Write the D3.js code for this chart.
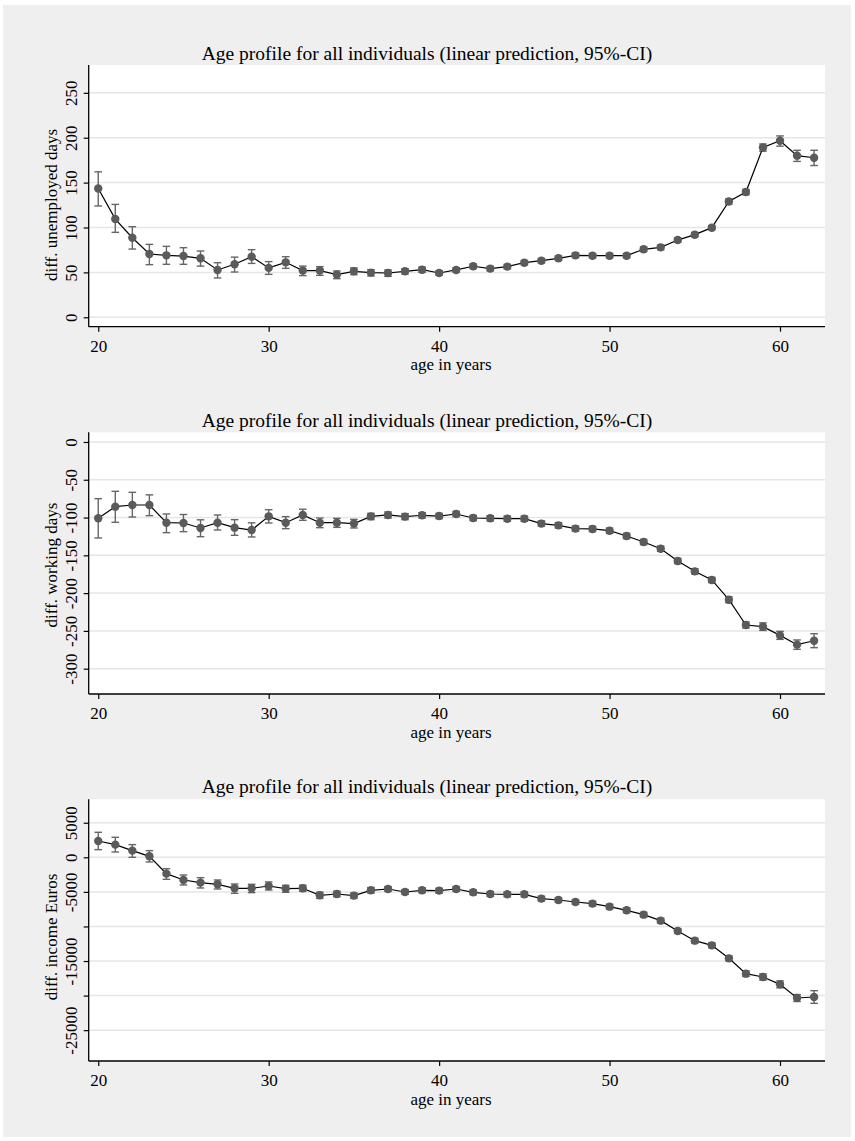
<!DOCTYPE html>
<html>
<head>
<meta charset="utf-8">
<script src="https://cdn.jsdelivr.net/npm/d3@7"></script>
<style>
  html, body { margin: 0; padding: 0; background: #ffffff; }
  svg { display: block; }
  text { font-family: "Liberation Serif", "DejaVu Serif", serif; fill: #000; }
</style>
</head>
<body>
<svg id="chart" width="855" height="1141"></svg>
<script>
// ---------- data ----------
const ages = [20,21,22,23,24,25,26,27,28,29,30,31,32,33,34,35,36,37,38,39,40,41,42,43,44,45,46,47,48,49,50,51,52,53,54,55,56,57,58,59,60,61,62];

const unempDays = [143.5,109.4,88.6,70.5,69,68.2,65.7,52.7,59,67.5,55,61.2,52,52,47.5,51.2,49.7,49.3,51.2,53,49.3,52.7,56.8,54.2,56.4,60.8,63,65.7,69,68.6,68.6,68.6,75.7,77.9,86,92,99.8,129,139.5,189.2,196.6,180,177.7];
const unempLo   = [124,94.6,76,58.6,59,59,57,43.8,50.4,60,47.8,54.5,46.4,46.7,43,47.5,46,45.6,48.2,50,46.8,50.2,54.3,51.7,53.9,58.3,60.5,63.2,66.5,66.1,66.1,66.1,73.2,75.4,83.5,89.5,97.3,126,136.5,185,190.6,173.6,169];
const unempHi   = [162,125.7,100.9,81.2,79,77.5,73.8,60.8,67,75.3,62,67.5,57,56.4,51.6,55,53,52.7,54.2,56,51.8,55.2,59.3,56.7,58.9,63.3,65.5,68.2,71.5,71.1,71.1,71.1,78.2,80.4,88.5,94.5,102.3,132,142.5,193,202,186,186];

const workDays = [-101,-85.6,-83.4,-83.4,-106.8,-107.2,-113.8,-106.8,-113.4,-116.5,-98.4,-106.8,-96.6,-106.8,-106.8,-108,-98.4,-96.6,-98.8,-97,-98,-95.3,-100.6,-101,-101.5,-101.5,-108,-110.3,-114.7,-115.1,-117.4,-124.4,-132.4,-141.2,-157.5,-171.2,-182.6,-208.7,-242.2,-244.4,-255.9,-268.2,-263];
const workLo   = [-127,-106.3,-99.3,-97.5,-120,-118.7,-125.3,-116.5,-123.5,-125.7,-107.2,-114.7,-103.7,-113.4,-113,-113.8,-102.8,-100.6,-102.8,-100.5,-101.5,-98.8,-104.1,-104.5,-105,-105,-111.5,-113.8,-118.2,-118.6,-120.9,-127.9,-135.9,-144.7,-161,-174.7,-186.1,-212.7,-246.2,-249.4,-261.2,-274.4,-272.2];
const workHi   = [-75,-65.3,-66.6,-70,-95.3,-96,-103,-96.6,-102.8,-107,-89.6,-98.8,-89,-100.6,-101,-102.4,-94.4,-92.6,-94.8,-93.5,-94.5,-91.8,-97.1,-97.5,-98,-98,-104.5,-106.8,-111.2,-111.6,-113.9,-120.9,-128.9,-137.7,-154,-167.7,-179.1,-204.7,-238.2,-239.4,-250.6,-262,-253.7];

const incomeEur = [2363,1832,964,145,-2363,-3279,-3665,-3906,-4484,-4484,-4147,-4533,-4484,-5497,-5304,-5545,-4774,-4581,-5015,-4774,-4822,-4581,-5063,-5304,-5352,-5352,-5979,-6172,-6461,-6703,-7137,-7667,-8294,-9162,-10657,-12055,-12730,-14611,-16829,-17311,-18372,-20349,-20204];
const incomeLo  = [1109,771,0,-675,-3183,-4002,-4436,-4581,-5208,-5111,-4725,-5063,-4934,-5947,-5704,-5945,-5174,-4931,-5365,-5124,-5172,-4931,-5413,-5654,-5702,-5702,-6329,-6522,-6811,-7053,-7487,-8017,-8644,-9512,-11007,-12405,-13080,-14961,-17229,-17761,-18872,-20849,-21120];
const incomeHi  = [3617,2893,1832,964,-1640,-2556,-2941,-3279,-3858,-3906,-3568,-4050,-4034,-5047,-4904,-5145,-4374,-4231,-4665,-4424,-4472,-4231,-4713,-4954,-5002,-5002,-5629,-5822,-6111,-6353,-6787,-7317,-7944,-8812,-10307,-11705,-12380,-14261,-16429,-16861,-17872,-19849,-19288];

const xTicks = [20,30,40,50,60];
const unempTicks = [0,50,100,150,200,250];
const workTicks = [0,-50,-100,-150,-200,-250,-300];
const incomeTicks = [5000,0,-5000,-10000,-15000,-20000,-25000];
const incomeTickLabels = ["5000","0","-5000","","-15000","","-25000"];

const titleText = "Age profile for all individuals (linear prediction, 95%-CI)";
const xTitle = "age in years";
const yTitles = ["diff. unemployed days", "diff. working days", "diff. income Euros"];

// ---------- layout ----------
const svg = d3.select("#chart");
svg.append("rect").attr("x", 3).attr("y", 5).attr("width", 848).attr("height", 1132).attr("fill", "#efefef");

const xDomain = [19.44, 62.64];
const panels = [
  { top: 65,    bottom: 326.7, yDomain: [-10.5, 281],   ticks: unempTicks,  labels: unempTicks.map(String),  v: unempDays, lo: unempLo,  hi: unempHi,  titleY: 53.5,  yTitleY: 205 },
  { top: 432.3, bottom: 694,   yDomain: [-333.5, 12.8], ticks: workTicks,   labels: workTicks.map(String),   v: workDays,  lo: workLo,   hi: workHi,   titleY: 420,   yTitleY: 565 },
  { top: 799.3, bottom: 1061,  yDomain: [-29460, 8390], ticks: incomeTicks, labels: incomeTickLabels,        v: incomeEur, lo: incomeLo, hi: incomeHi, titleY: 786.5, yTitleY: 937 }
];
const left = 88.7, right = 825;
const tickFont = 17, titleFont = 19.5, axisTitleFont = 17;

const markColor = "#5b5b5b";

panels.forEach((p, i) => {
  const g = svg.append("g");
  const x = d3.scaleLinear().domain(xDomain).range([left, right]);
  const y = d3.scaleLinear().domain(p.yDomain).range([p.bottom, p.top]);

  // plot region
  g.append("rect").attr("x", left).attr("y", p.top).attr("width", right - left).attr("height", p.bottom - p.top).attr("fill", "#ffffff");

  // gridlines
  g.selectAll(".grid").data(p.ticks).join("line")
    .attr("x1", left).attr("x2", right)
    .attr("y1", d => y(d)).attr("y2", d => y(d))
    .attr("stroke", "#e6e6e6").attr("stroke-width", 1.5);

  // y axis
  const yAxis = d3.axisLeft(y).tickValues(p.ticks).tickSize(5).tickFormat((d, k) => p.labels[k]);
  const ya = g.append("g").attr("transform", `translate(${left},0)`).call(yAxis);
  ya.select(".domain").remove();
  ya.selectAll(".tick line").attr("stroke", "#000").attr("stroke-width", 1.2);
  ya.selectAll(".tick text")
    .attr("font-size", tickFont).attr("font-family", "Liberation Serif")
    .attr("x", 0).attr("dy", null).attr("text-anchor", "middle")
    .attr("transform", "translate(-17,0) rotate(-90)")
    .attr("dominant-baseline", "central");
  g.append("line").attr("x1", left).attr("x2", left).attr("y1", p.top).attr("y2", p.bottom).attr("stroke", "#000").attr("stroke-width", 1.3);

  // x axis
  const xAxis = d3.axisBottom(x).tickValues(xTicks).tickSize(5).tickFormat(d3.format("d"));
  const xa = g.append("g").attr("transform", `translate(0,${p.bottom})`).call(xAxis);
  xa.select(".domain").remove();
  xa.selectAll(".tick line").attr("stroke", "#000").attr("stroke-width", 1.2);
  xa.selectAll(".tick text").attr("font-size", tickFont).attr("font-family", "Liberation Serif")
    .attr("y", 19.5).attr("dy", null).attr("dominant-baseline", "central");
  g.append("line").attr("x1", left).attr("x2", right).attr("y1", p.bottom).attr("y2", p.bottom).attr("stroke", "#000").attr("stroke-width", 1.3);

  // titles
  g.append("text").attr("x", 427).attr("y", p.titleY).attr("text-anchor", "middle").attr("dominant-baseline", "central").attr("font-size", titleFont).text(titleText);
  g.append("text").attr("x", 451).attr("y", p.bottom + 38).attr("text-anchor", "middle").attr("dominant-baseline", "central").attr("font-size", axisTitleFont).text(xTitle);
  g.append("text").attr("transform", `translate(51,${p.yTitleY}) rotate(-90)`).attr("text-anchor", "middle").attr("dominant-baseline", "central").attr("font-size", axisTitleFont).text(yTitles[i]);

  const rows = ages.map((a, k) => ({ a, v: p.v[k], lo: p.lo[k], hi: p.hi[k] }));

  // CI bars
  const ci = g.append("g").attr("stroke", "#666666").attr("stroke-width", 1.4).attr("fill", "none");
  ci.selectAll(".v").data(rows).join("line")
    .attr("x1", d => x(d.a)).attr("x2", d => x(d.a)).attr("y1", d => y(d.lo)).attr("y2", d => y(d.hi));
  ci.selectAll(".ct").data(rows).join("line")
    .attr("x1", d => x(d.a) - 3.8).attr("x2", d => x(d.a) + 3.8).attr("y1", d => y(d.hi)).attr("y2", d => y(d.hi));
  ci.selectAll(".cb").data(rows).join("line")
    .attr("x1", d => x(d.a) - 3.8).attr("x2", d => x(d.a) + 3.8).attr("y1", d => y(d.lo)).attr("y2", d => y(d.lo));

  // connecting line
  const line = d3.line().x(d => x(d.a)).y(d => y(d.v));
  g.append("path").datum(rows).attr("d", line).attr("fill", "none").attr("stroke", "#000").attr("stroke-width", 1.2);

  // markers
  g.selectAll(".m").data(rows).join("circle")
    .attr("cx", d => x(d.a)).attr("cy", d => y(d.v)).attr("r", 4.2).attr("fill", markColor);
});
</script>
</body>
</html>
